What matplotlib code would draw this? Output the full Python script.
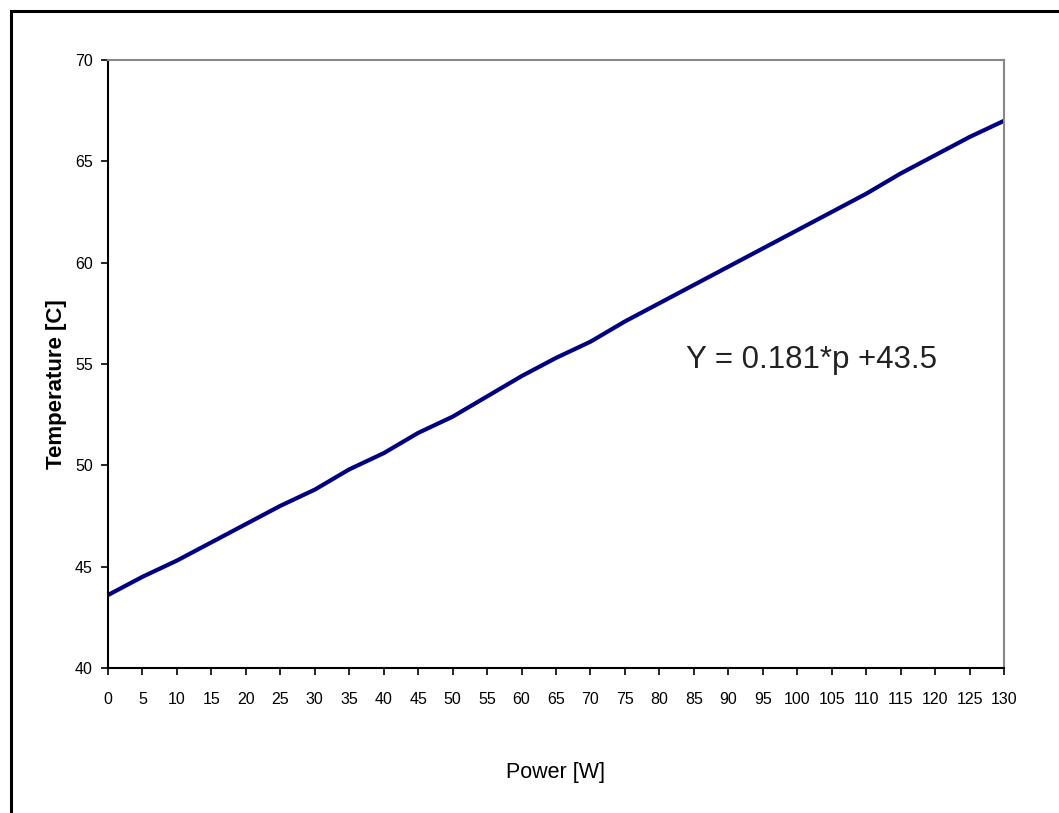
import matplotlib
matplotlib.use("Agg")
import matplotlib.pyplot as plt
from matplotlib.patches import Rectangle

# values, every 5 W
power = [0, 5, 10, 15, 20, 25, 30, 35, 40, 45, 50, 55, 60, 65,
         70, 75, 80, 85, 90, 95, 100, 105, 110, 115, 120, 125, 130]
temperature = [43.6, 44.5, 45.3, 46.2, 47.1, 48.0, 48.8, 49.8, 50.6, 51.6,
               52.4, 53.4, 54.4, 55.3, 56.1, 57.1, 58.0, 58.9, 59.8, 60.7,
               61.6, 62.5, 63.4, 64.4, 65.3, 66.2, 67.0]
x_ticks = list(range(0, 131, 5))
y_ticks = [40, 45, 50, 55, 60, 65, 70]
fit_label = "Y = 0.181*p +43.5"

plt.rcParams["font.family"] = ["Liberation Sans", "DejaVu Sans"]

fig = plt.figure(figsize=(10.59, 8.13), dpi=100)
# outer frame (cut off at right and bottom as in the picture)
fig.patches.append(Rectangle((11 / 1059, -0.05), 1.2, 1 - 11 / 813 + 0.05,
                             transform=fig.transFigure, fill=False,
                             edgecolor="black", linewidth=2.2))

ax = fig.add_axes([108 / 1059, 1 - 668 / 813, (1004 - 108) / 1059, (668 - 60) / 813])
ax.plot(power, temperature, color="#000080", linewidth=3.0)

ax.set_xlim(0, 130)
ax.set_ylim(40, 70)
ax.set_xticks(x_ticks)
ax.set_yticks(y_ticks)
ax.tick_params(direction="out", length=5, width=1.2, color="black", labelsize=11.5)
ax.tick_params(axis="x", pad=12)
ax.tick_params(axis="y", pad=6)

for s in ("left", "bottom"):
    ax.spines[s].set_color("black")
    ax.spines[s].set_linewidth(1.5)
for s in ("top", "right"):
    ax.spines[s].set_color("#888888")
    ax.spines[s].set_linewidth(1.5)

ax.set_xlabel("Power [W]", fontsize=15.5, labelpad=40)
ax.set_ylabel("Temperature [C]", fontsize=16, fontweight="bold", labelpad=6)
ax.yaxis.label.set_y(0.467)

ax.text(686 / 1059, 1 - 360 / 813, fit_label, transform=fig.transFigure,
        fontsize=22.5, va="center", ha="left", color="#222222")

fig.savefig("out.png", dpi=100)
